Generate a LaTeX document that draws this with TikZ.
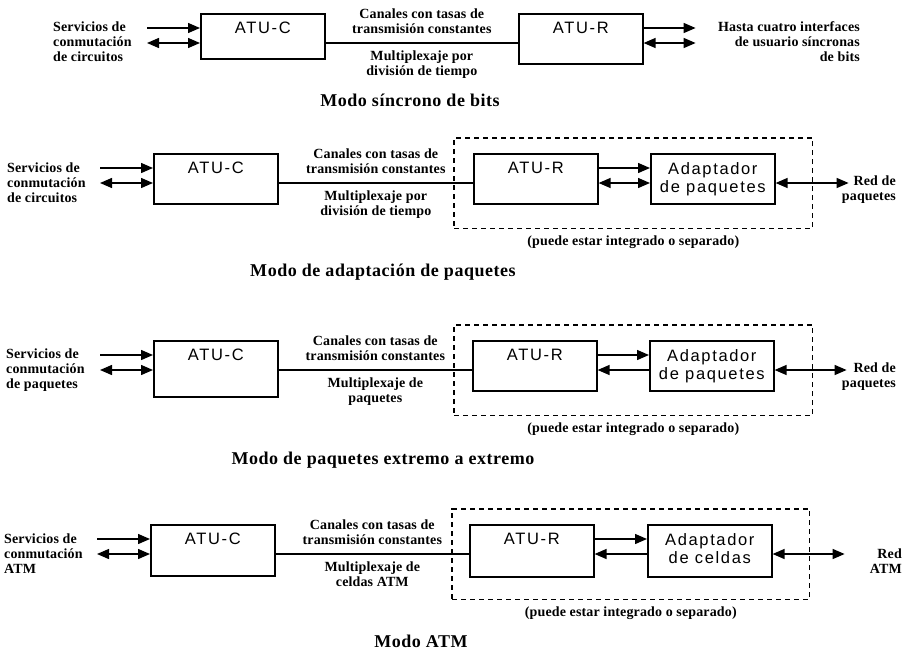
\documentclass[tikz,border=0pt]{standalone}
\usepackage{fontspec}
\setmainfont{Liberation Serif}
\newfontfamily\unitfont[LetterSpace=10]{Liberation Sans}
\usetikzlibrary{positioning,arrows.meta,fit,calc}
\tikzset{
  unit/.style={draw, line width=1.6pt, font=\unitfont\fontsize{16.5}{18}\selectfont,
    minimum width=124pt, inner sep=0pt, anchor=north west, align=center,
    text height=20pt, text depth=30pt},
  txt/.style={font=\bfseries\fontsize{14}{15}\selectfont\addfontfeature{LetterSpace=1}, inner sep=1pt},
  mode/.style={font=\bfseries\fontsize{18}{20}\selectfont\addfontfeature{LetterSpace=3}},
  grp/.style={draw, line width=1.5pt, dash pattern=on 5pt off 4pt, inner sep=0pt},
  link/.style={line width=1.4pt},
  arr/.style={link, -{Triangle[length=12pt,width=10pt]}},
  larr/.style={link, {Triangle[length=12pt,width=10pt]}-},
  darr/.style={link, {Triangle[length=12pt,width=10pt]}-{Triangle[length=12pt,width=10pt]}},
}
\begin{document}
\begin{tikzpicture}[x=1pt, y=-1pt]
\useasboundingbox (0,0) rectangle (909,653);
% Modo sincrono de bits
\node[unit, text depth=25pt] (atuc1) at (200,13) {ATU-C};
\node[unit] (atur1) at (518,13) {ATU-R};
\node[txt, align=left, anchor=west] (srv1) at (52,42) {Servicios de\\conmutación\\de circuitos};
\node[txt, align=right, anchor=east] (usr1) at (861,42) {Hasta cuatro interfaces\\de usuario síncronas\\de bits};
\coordinate (in1a) at ([xshift=-53pt, yshift=-15pt]atuc1.north west);
\coordinate (in1b) at ([xshift=-53pt, yshift=-30pt]atuc1.north west);
\coordinate (out1a) at ([xshift=52pt, yshift=-15pt]atur1.north east);
\coordinate (out1b) at ([xshift=52pt, yshift=-30pt]atur1.north east);
\draw[arr] (in1a) -- (in1a -| atuc1.west);
\draw[darr] (in1b) -- (in1b -| atuc1.west);
\draw[arr] (out1a -| atur1.east) -- (out1a);
\draw[darr] (out1b -| atur1.east) -- (out1b);
\draw[link] ([yshift=-30pt]atuc1.north east) -- ([yshift=-30pt]atur1.north west)
  node[midway, above=8pt, txt, align=center] {Canales con tasas de\\transmisión constantes}
  node[midway, below=6pt, txt, align=center] {Multiplexaje por\\división de tiempo};
\node[mode] (t1) at (410,100) {Modo síncrono de bits};

% Modo de adaptacion de paquetes
\node[unit] (atuc2) at (153,153) {ATU-C};
\node[unit] (atur2) at (473,153) {ATU-R};
\node[unit, text height=39pt, text depth=11pt] (adap2) at (650,153) {Adaptador\\de paquetes};
\node[txt, align=left, anchor=west] (srv2) at (6,183) {Servicios de\\conmutación\\de circuitos};
\node[txt, align=right, anchor=east] (red2) at (897,190) {Red de\\paquetes};
\coordinate (in2a) at ([xshift=-53pt, yshift=-15pt]atuc2.north west);
\coordinate (in2b) at ([xshift=-53pt, yshift=-30pt]atuc2.north west);
\coordinate (out2) at ([xshift=73pt, yshift=-30pt]adap2.north east);
\draw[arr] (in2a) -- (in2a -| atuc2.west);
\draw[darr] (in2b) -- (in2b -| atuc2.west);
\draw[link] ([yshift=-30pt]atuc2.north east) -- ([yshift=-30pt]atur2.north west)
  node[midway, above=8pt, txt, align=center] {Canales con tasas de\\transmisión constantes}
  node[midway, below=6pt, txt, align=center] {Multiplexaje por\\división de tiempo};
\draw[arr] ([yshift=-15pt]atur2.north east) -- ([yshift=-15pt]adap2.north west);
\draw[darr] ([yshift=-30pt]atur2.north east) -- ([yshift=-30pt]adap2.north west);
\draw[darr] (out2 -| adap2.east) -- (out2);
\coordinate (g2a) at ([xshift=-19pt, yshift=15pt]atur2.north west);
\coordinate (g2b) at ([xshift=37pt, yshift=-24pt]adap2.south east);
\node[grp, fit=(g2a)(g2b)] (grp2) {};
\node[txt, below=5pt of grp2] (cap2) {(puede estar integrado o separado)};
\node[mode] (t2) at (383,272) {Modo de adaptación de paquetes};

% Modo de paquetes extremo a extremo
\node[unit, text depth=36pt] (atuc3) at (153,340) {ATU-C};
\node[unit] (atur3) at (472,340) {ATU-R};
\node[unit, text height=39pt, text depth=11pt] (adap3) at (649,340) {Adaptador\\de paquetes};
\node[txt, align=left, anchor=west] (srv3) at (5,370) {Servicios de\\conmutación\\de paquetes};
\node[txt, align=right, anchor=east] (red3) at (897,377) {Red de\\paquetes};
\coordinate (in3a) at ([xshift=-53pt, yshift=-15pt]atuc3.north west);
\coordinate (in3b) at ([xshift=-53pt, yshift=-30pt]atuc3.north west);
\coordinate (out3) at ([xshift=72pt, yshift=-30pt]adap3.north east);
\draw[arr] (in3a) -- (in3a -| atuc3.west);
\draw[darr] (in3b) -- (in3b -| atuc3.west);
\draw[link] ([yshift=-30pt]atuc3.north east) -- ([yshift=-30pt]atur3.north west)
  node[midway, above=8pt, txt, align=center] {Canales con tasas de\\transmisión constantes}
  node[midway, below=6pt, txt, align=center] {Multiplexaje de\\paquetes};
\draw[arr] ([yshift=-15pt]atur3.north east) -- ([yshift=-15pt]adap3.north west);
\draw[larr] ([yshift=-30pt]atur3.north east) -- ([yshift=-30pt]adap3.north west);
\draw[darr] (out3 -| adap3.east) -- (out3);
\coordinate (g3a) at ([xshift=-18pt, yshift=15pt]atur3.north west);
\coordinate (g3b) at ([xshift=38pt, yshift=-24pt]adap3.south east);
\node[grp, fit=(g3a)(g3b)] (grp3) {};
\node[txt, below=5pt of grp3] (cap3) {(puede estar integrado o separado)};
\node[mode] (t3) at (383,460) {Modo de paquetes extremo a extremo};

% Modo ATM
\node[unit, text depth=31pt] (atuc4) at (150,524) {ATU-C};
\node[unit, text depth=32pt] (atur4) at (469,524) {ATU-R};
\node[unit, text height=39pt, text depth=13pt] (adap4) at (647,524) {Adaptador\\de celdas};
\node[txt, align=left, anchor=west] (srv4) at (3,554) {Servicios de\\conmutación\\ATM};
\node[txt, align=right, anchor=east] (red4) at (903,561) {Red\\ATM};
\coordinate (in4a) at ([xshift=-53pt, yshift=-15pt]atuc4.north west);
\coordinate (in4b) at ([xshift=-53pt, yshift=-30pt]atuc4.north west);
\coordinate (out4) at ([xshift=72pt, yshift=-30pt]adap4.north east);
\draw[arr] (in4a) -- (in4a -| atuc4.west);
\draw[darr] (in4b) -- (in4b -| atuc4.west);
\draw[link] ([yshift=-30pt]atuc4.north east) -- ([yshift=-30pt]atur4.north west)
  node[midway, above=8pt, txt, align=center] {Canales con tasas de\\transmisión constantes}
  node[midway, below=6pt, txt, align=center] {Multiplexaje de\\celdas ATM};
\draw[arr] ([yshift=-15pt]atur4.north east) -- ([yshift=-15pt]adap4.north west);
\draw[larr] ([yshift=-30pt]atur4.north east) -- ([yshift=-30pt]adap4.north west);
\draw[darr] (out4 -| adap4.east) -- (out4);
\coordinate (g4a) at ([xshift=-17pt, yshift=15pt]atur4.north west);
\coordinate (g4b) at ([xshift=37pt, yshift=-22pt]adap4.south east);
\node[grp, fit=(g4a)(g4b)] (grp4) {};
\node[txt, below=5pt of grp4] (cap4) {(puede estar integrado o separado)};
\node[mode] (t4) at (421,641) {Modo ATM};
\end{tikzpicture}
\end{document}
